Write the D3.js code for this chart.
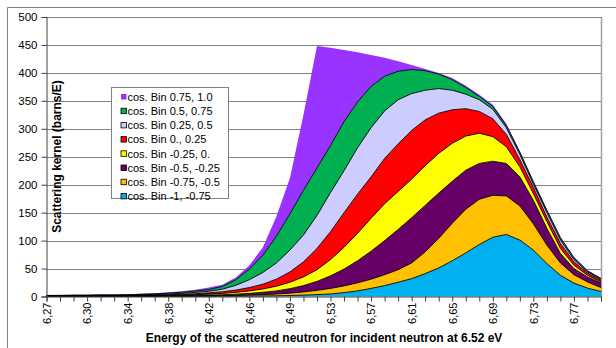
<!DOCTYPE html>
<html>
<head>
<meta charset="utf-8">
<script src="https://cdn.jsdelivr.net/npm/d3@7"></script>
<style>
  body { margin: 0; background: #fff; }
  svg { display: block; font-family: Arial, "Liberation Sans", sans-serif; }
</style>
</head>
<body>
<svg width="616" height="348"></svg>
<script>
// energy of the scattered neutron (eV), one per category
const energies = [6.270, 6.281, 6.292, 6.303, 6.316, 6.329, 6.342, 6.354, 6.367, 6.380,
                  6.393, 6.406, 6.419, 6.431, 6.444, 6.457, 6.470, 6.483, 6.494, 6.507,
                  6.520, 6.533, 6.546, 6.558, 6.571, 6.584, 6.597, 6.610, 6.622, 6.635,
                  6.648, 6.661, 6.674, 6.687, 6.700, 6.713, 6.726, 6.738, 6.751, 6.766,
                  6.777, 6.790];

// kernel per cosine bin (barns/E), bottom of the stack first
const binM100 = [0.1,0.1,0.1,0.1,0.1,0.1,0.1,0.2,0.2,0.2,0.3,0.3,0.4,0.5,0.6,0.8,1.0,1.3,1.8,2.5,
                 3.4,4.5,7,10,14.5,19.5,25.5,32,41,51,64,78,93,106,111,101,83,59,38,24,15,9];
const binM075 = [0.2,0.2,0.2,0.2,0.3,0.3,0.3,0.3,0.4,0.5,0.5,0.7,0.8,1.0,1.3,1.7,2.3,3.1,4.2,5.7,
                 7.6,10,12,14.5,16.5,19.5,22.5,28,39,53,67,78,81,75,69,61,47,33,22,15,11,7];
const binM050 = [0.2,0.2,0.3,0.3,0.3,0.3,0.4,0.5,0.5,0.6,0.8,1.0,1.3,1.7,2.3,3.1,4.2,5.6,8,11.3,
                 16,22.5,30,39.5,50,61,72,81,83,81,75,70,64,61,58,52,42,30,17,11,9,8];
const binM025 = [0.3,0.3,0.3,0.3,0.4,0.4,0.4,0.5,0.6,0.8,1.0,1.3,1.7,2.3,3.2,4.4,6,8.5,11.5,15.5,
                 21,29,39,49,59,66,68,69,71,71,68,61,54,44,30,18,12,12,9,6,3,2];
const binP000 = [0.3,0.3,0.4,0.4,0.4,0.4,0.5,0.6,0.8,1.0,1.3,1.7,2.3,3.0,4.1,6,8.5,12.5,18.5,27,
                 38,50,62,70,74,81,85,87,82,72,60,49,39,32,22,13,11,8,9,6,4,3];
const binP025 = [0.4,0.4,0.5,0.5,0.6,0.6,0.7,0.9,1.0,1.3,1.7,2.2,2.8,4.5,8.5,14,21,29,39,48,
                 59,70,75,83,88,85,79,66,53,44,35,26,21,17,12,9,6,8,6,4,2,2];
const binP050 = [0.5,0.5,0.6,0.6,0.7,0.7,0.8,1.0,1.3,1.6,2.0,2.6,3.2,5,10,19,31,48,65,80,
                 85,84,88,82,74,62,51,43,35,26,19,12,6,5,4,4,4,4,4,3,2,1];
const binP075 = [0.5,0.5,0.6,0.6,0.7,0.7,0.8,1.0,1.2,1.5,1.9,2.2,3.5,3,4,7,14,35,64,135,
                 218,175,128,89,56,33,18,8,3,2,3,3,3,3,3,2,2,2,2,2,1,1];

const seriesNames = ["cos. Bin -1, -0.75", "cos. Bin -0.75, -0.5", "cos. Bin -0.5, -0.25",
                     "cos. Bin -0.25, 0.", "cos. Bin 0., 0.25", "cos. Bin 0.25, 0.5",
                     "cos. Bin 0.5, 0.75", "cos. Bin 0.75, 1.0"];
const seriesColors = ["#00b0f0", "#ffc000", "#660066", "#ffff00", "#ff0000", "#ccccff",
                      "#00b050", "#9933ff"];
const seriesValues = [binM100, binM075, binM050, binM025, binP000, binP025, binP050, binP075];

const yTicks = [0, 50, 100, 150, 200, 250, 300, 350, 400, 450, 500];

const svg = d3.select("svg");
const plot = {left: 46.5, right: 601, top: 17, bottom: 296.5};

// outer chart border (cropped at right and bottom)
svg.append("path")
    .attr("d", "M7.5,348 V7.5 H616")
    .attr("fill", "none")
    .attr("stroke", "#808080");

const table = energies.map((e, i) => {
  const row = {energy: e};
  seriesNames.forEach((n, k) => row[n] = seriesValues[k][i]);
  return row;
});

const x = d3.scalePoint()
    .domain(d3.range(energies.length))
    .range([plot.left, plot.right]);

const y = d3.scaleLinear()
    .domain([0, 500])
    .range([plot.bottom, plot.top]);

// gridlines
svg.append("g")
    .selectAll("line")
    .data(yTicks.slice(1))
    .join("line")
      .attr("x1", plot.left)
      .attr("x2", plot.right)
      .attr("y1", d => Math.round(y(d)) + 0.5)
      .attr("y2", d => Math.round(y(d)) + 0.5)
      .attr("stroke", "#808080")
      .attr("stroke-width", 1);

// plot area border, right side
svg.append("line")
    .attr("x1", plot.right + 0.5).attr("x2", plot.right + 0.5)
    .attr("y1", plot.top).attr("y2", plot.bottom)
    .attr("stroke", "#a0a0a0")
    .attr("stroke-width", 1.5);

const stack = d3.stack().keys(seriesNames);
const layers = stack(table);

const area = d3.area()
    .x((d, i) => x(i))
    .y0(d => y(d[0]))
    .y1(d => y(d[1]));

const topLine = d3.line()
    .x((d, i) => x(i))
    .y(d => y(d[1]));

svg.append("g")
    .selectAll("path")
    .data(layers)
    .join("path")
      .attr("d", area)
      .attr("fill", (d, k) => seriesColors[k]);

// black outline on the upper edge of every band except the top one
svg.append("g")
    .selectAll("path")
    .data(layers.slice(0, 7))
    .join("path")
      .attr("d", topLine)
      .attr("fill", "none")
      .attr("stroke", "#000")
      .attr("stroke-width", 0.9);

// y axis
const yAxis = d3.axisLeft(y)
    .tickValues(yTicks)
    .tickSize(5)
    .tickPadding(4);

svg.append("g")
    .attr("transform", `translate(${plot.left},0)`)
    .call(yAxis)
    .call(g => g.select(".domain").attr("stroke", "#404040"))
    .call(g => g.selectAll(".tick line").attr("stroke", "#404040"))
    .call(g => g.selectAll("text")
        .attr("font-size", 11.5)
        .attr("font-family", "Arial, 'Liberation Sans', sans-serif")
        .attr("fill", "#000"));

// x axis
const xAxis = d3.axisBottom(x)
    .tickSize(5)
    .tickFormat(i => i % 3 === 0 ? energies[i].toFixed(2).replace(".", ",") : "");

svg.append("g")
    .attr("transform", `translate(0,${plot.bottom})`)
    .call(xAxis)
    .call(g => g.select(".domain").attr("stroke", "#404040"))
    .call(g => g.selectAll(".tick line").attr("stroke", "#404040"))
    .call(g => g.selectAll("text")
        .attr("font-size", 11)
        .attr("font-family", "Arial, 'Liberation Sans', sans-serif")
        .attr("fill", "#000")
        .attr("transform", "rotate(-90)")
        .attr("text-anchor", "end")
        .attr("x", -6)
        .attr("y", 0)
        .attr("dy", "0.35em"));

// axis titles
svg.append("text")
    .attr("x", 324)
    .attr("y", 342)
    .attr("text-anchor", "middle")
    .attr("font-size", 12)
    .attr("font-weight", "bold")
    .text("Energy of the scattered neutron for incident neutron at 6.52 eV");

svg.append("text")
    .attr("transform", "translate(60.5,156.5)rotate(-90)")
    .attr("text-anchor", "middle")
    .attr("font-size", 12)
    .attr("font-weight", "bold")
    .text("Scattering kernel (barns/E)");

// legend
const legend = svg.append("g").attr("transform", "translate(111.5,87.5)");
legend.append("rect")
    .attr("width", 117)
    .attr("height", 111)
    .attr("fill", "#fff")
    .attr("stroke", "#808080");

const legendOrder = d3.range(seriesNames.length).reverse();
const rows = legend.selectAll("g")
    .data(legendOrder)
    .join("g")
      .attr("transform", (k, r) => `translate(0,${6.5 + r * 14.2})`);

rows.append("rect")
    .attr("x", 9.5)
    .attr("y", 0)
    .attr("width", 5.5)
    .attr("height", 5.5)
    .attr("fill", k => seriesColors[k])
    .attr("stroke", k => k === 7 ? "none" : "#000")
    .attr("stroke-width", 0.8);

rows.append("text")
    .attr("x", 16)
    .attr("y", 3)
    .attr("dy", "0.35em")
    .attr("font-size", 11)
    .text(k => seriesNames[k]);
</script>
</body>
</html>
